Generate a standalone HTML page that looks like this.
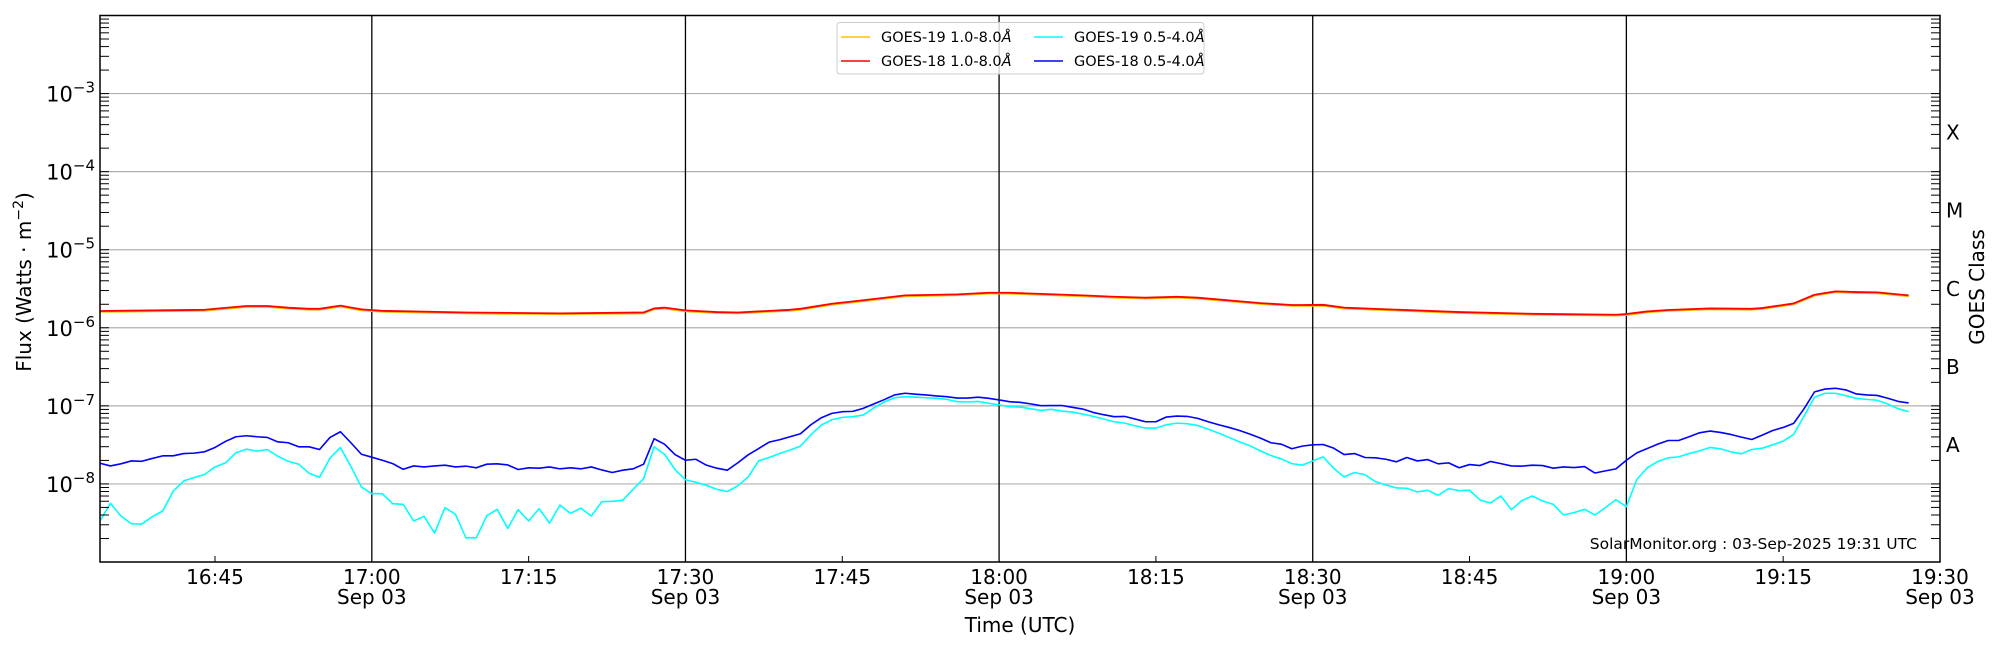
<!DOCTYPE html>
<html><head><meta charset="utf-8"><style>
html,body{margin:0;padding:0;background:#fff;}
svg{display:block;font-family:"DejaVu Sans","Liberation Sans",sans-serif;}
</style></head><body>
<svg id="chart" width="2000" height="650" viewBox="0 0 2000 650">
<g id="grid"></g>
<g id="series"></g>
<g id="axes"></g>
<text x="1020" y="632" font-size="20" text-anchor="middle">Time (UTC)</text>
<text transform="translate(31,282) rotate(-90)" font-size="20" text-anchor="middle">Flux (Watts · m<tspan dy="-8" font-size="14">−2</tspan><tspan dy="8">)</tspan></text>
<text transform="translate(1984,287) rotate(-90)" font-size="20" text-anchor="middle">GOES Class</text>
<text x="1917" y="549" font-size="15.5" text-anchor="end">SolarMonitor.org : 03-Sep-2025 19:31 UTC</text>
<g>
<rect x="837" y="22.5" width="367" height="51.5" rx="3" fill="#fff" fill-opacity="0.8" stroke="#ccc" stroke-width="1"/>
<line x1="841" y1="37" x2="870" y2="37" stroke="#ffc000" stroke-width="1.5"/>
<text x="881" y="42" font-size="14.5">GOES-19 1.0-8.0<tspan font-style="italic">Å</tspan></text>
<line x1="841" y1="61" x2="870" y2="61" stroke="#ff0000" stroke-width="1.5"/>
<text x="881" y="66" font-size="14.5">GOES-18 1.0-8.0<tspan font-style="italic">Å</tspan></text>
<line x1="1034" y1="37" x2="1063" y2="37" stroke="#00ffff" stroke-width="1.5"/>
<text x="1074" y="42" font-size="14.5">GOES-19 0.5-4.0<tspan font-style="italic">Å</tspan></text>
<line x1="1034" y1="61" x2="1063" y2="61" stroke="#0000ff" stroke-width="1.5"/>
<text x="1074" y="66" font-size="14.5">GOES-18 0.5-4.0<tspan font-style="italic">Å</tspan></text>
</g>
</svg>
<script>
// minutes after 16:34 UTC; short channel sampled each minute
const startLabel = "16:34";
const blue18 = [1.84,1.70,1.81,1.97,1.95,2.12,2.29,2.29,2.45,2.48,2.58,2.93,3.50,4.02,4.14,4.02,3.94,3.46,3.37,2.99,2.99,2.76,3.94,4.66,3.37,2.40,2.20,2.01,1.82,1.54,1.70,1.65,1.70,1.74,1.65,1.69,1.61,1.79,1.81,1.75,1.53,1.61,1.59,1.65,1.56,
1.61,1.56,1.65,1.51,1.40,1.50,1.56,1.79,3.79,3.23,2.38,2.01,2.07,1.74,1.59,1.50,1.86,2.36,2.84,3.43,3.68,4.02,4.39,5.73,7.05,8.01,8.41,8.50,9.29,10.56,12.0,13.8,14.5,14.1,13.8,13.4,13.1,12.6,12.6,12.9,12.5,11.9,11.3,
11.1,10.6,10.05,10.1,10.1,9.57,9.10,8.24,7.70,7.26,7.33,6.78,6.26,6.26,7.19,7.40,7.33,6.91,6.26,5.73,5.29,4.84,4.35,3.86,3.37,3.23,2.82,3.05,3.17,3.20,2.87,2.38,2.45,2.18,2.16,2.07,1.92,2.18,1.97,2.05,1.81,1.86,1.61,
1.77,1.72,1.94,1.82,1.70,1.69,1.74,1.72,1.59,1.65,1.62,1.67,1.38,1.47,1.56,2.01,2.50,2.84,3.23,3.60,3.60,4.02,4.52,4.75,4.57,4.30,3.98,3.71,4.22,4.84,5.29,5.96,9.20,15.1,16.4,16.8,16.0,14.2,13.8,13.6,12.5,11.4,10.9]; // x1e-8
const cyan19 = [0.335,0.565,0.388,0.309,0.306,0.38,0.45,0.805,1.09,1.21,1.32,1.65,1.86,2.50,2.79,2.63,2.76,2.27,1.95,1.79,1.37,1.22,2.14,2.93,1.67,0.915,0.751,0.751,0.559,0.548,0.335,0.384,0.235,0.497,0.408,0.204,0.204,0.392,0.473,0.269,0.468,0.335,0.482,0.315,0.537,
0.42,0.49,0.388,0.593,0.599,0.617,0.854,1.17,2.99,2.40,1.53,1.13,1.05,0.96,0.854,0.797,0.943,1.23,1.97,2.18,2.45,2.71,3.05,4.26,5.67,6.64,7.12,7.26,7.62,9.38,11.2,12.7,13.1,12.9,12.7,12.5,12.1,11.3,11.2,11.4,10.8,10.3,9.75,
9.66,9.20,8.75,9.02,8.58,8.33,7.85,7.33,6.78,6.26,6.01,5.56,5.19,5.19,5.73,6.01,5.90,5.61,5.04,4.48,3.94,3.46,3.08,2.65,2.31,2.09,1.82,1.74,1.97,2.22,1.59,1.23,1.40,1.31,1.07,0.97,0.889,0.880,0.789,0.83,0.715,0.871,0.821,
0.83,0.623,0.57,0.701,0.468,0.611,0.701,0.605,0.548,0.40,0.429,0.473,0.40,0.497,0.629,0.512,1.14,1.61,1.94,2.16,2.22,2.45,2.65,2.93,2.82,2.58,2.43,2.76,2.87,3.17,3.53,4.30,7.40,12.9,14.5,14.5,13.5,12.5,12.1,11.8,10.56,9.20,8.41]; // x1e-8
const longMinutes = [0,10,14,16,18,20,21,23,25,27,35,44,52,53,54,56,59,61,66,67,70,73,77,82,85,87,94,97,100,103,105,111,114,115,117,119,130,137,145,146,148,150,154,158,159,162,164,166,168,170,173];
const red18 = [1.64,1.70,1.90,1.90,1.81,1.75,1.75,1.92,1.72,1.65,1.57,1.53,1.57,1.77,1.81,1.67,1.59,1.57,1.70,1.75,2.03,2.25,2.60,2.68,2.81,2.81,2.60,2.50,2.43,2.50,2.43,2.07,1.96,1.96,1.97,1.81,1.59,1.51,1.47,1.50,1.62,1.69,1.77,1.75,1.79,2.05,2.65,2.93,2.87,2.84,2.60]; // x1e-6
const decades = [-3,-4,-5,-6,-7,-8];
const classLetters = ["X","M","C","B","A"];
const classExp = [-4,-5,-6,-7,-8];
const xTickMinutes = [11,26,41,56,71,86,101,116,131,146,161,176];
const xTickLabels = ["16:45","17:00","17:15","17:30","17:45","18:00","18:15","18:30","18:45","19:00","19:15","19:30"];

const L=100,R=1940,T=15.5,B=562, XMAX=176;
const NS="http://www.w3.org/2000/svg";
function xS(m){return L+(m/XMAX)*(R-L);}
function yS(v){return T+(-2-Math.log10(v))*((B-T)/7);}
function mk(tag,attrs,parent){const e=document.createElementNS(NS,tag);for(const k in attrs)e.setAttribute(k,attrs[k]);parent.appendChild(e);return e;}
const grid=document.getElementById('grid'),series=document.getElementById('series'),axes=document.getElementById('axes');

decades.forEach(d=>{
  const y=yS(Math.pow(10,d));
  const g=mk('line',{x1:L,x2:R,y1:y,y2:y,stroke:'#b0b0b0','stroke-width':1.2},grid);
  
  
  const t=mk('text',{x:95,y:y+8,'font-size':21,'text-anchor':'end'},axes);
  
  
  t.innerHTML='10<tspan dy="-9" font-size="15">−'+(-d)+'</tspan>';
});
xTickMinutes.forEach((m,i)=>{
  const x=xS(m);
  if(xTickLabels[i].endsWith(":00")||xTickLabels[i].endsWith(":30")){
    if(m<XMAX){const v=mk('line',{x1:x,x2:x,y1:T,y2:B,stroke:'#000','stroke-width':1.3},grid);
    
    }
    const s=mk('text',{x:x,y:604,'font-size':20,'text-anchor':'middle'},axes);
    
    
    s.textContent='Sep 03';
  } else {
    const tk=mk('line',{x1:x,x2:x,y1:B,y2:B-6,stroke:'#000','stroke-width':1},axes);
    
    
  }
  const t=mk('text',{x:x,y:584,'font-size':20,'text-anchor':'middle'},axes);
  
  
  t.textContent=xTickLabels[i];
});
for(let d=-9;d<-2;d++){for(let k=1;k<10;k++){const y=yS(k*Math.pow(10,d)); if(y<T-0.5)continue; const len=9;
  const a=mk('line',{x1:L,x2:L+len,y1:y,y2:y,stroke:'#000','stroke-width':1},axes);
  
  
  const b=mk('line',{x1:R,x2:R-len,y1:y,y2:y,stroke:'#000','stroke-width':1},axes);
  
  
}}
classLetters.forEach((c,i)=>{
  const t=mk('text',{x:1946,y:yS(Math.pow(10,classExp[i]+0.5))+7,'font-size':20},axes);
  
  
  t.textContent=c;
});
function path(ms,vals,scale,color,w,name,dy){
  const d=vals.map((v,i)=>(i?'L':'M')+xS(ms[i]).toFixed(2)+','+(yS(v*scale)+dy).toFixed(2)).join(' ');
  const p=mk('path',{d:d,fill:'none',stroke:color,'stroke-width':w,'stroke-linejoin':'round'},series);
  
  
}
const mins=cyan19.map((_,i)=>i);
path(mins,cyan19,1e-8,'#00ffff',1.6,'goes19-short-line',0);
path(mins.slice(0,blue18.length),blue18,1e-8,'#0000ff',1.6,'goes18-short-line',0);
path(longMinutes,red18,1e-6,'#ffc000',1.6,'goes19-long-line',1);
path(longMinutes,red18,1e-6,'#ff0000',1.8,'goes18-long-line',0);
const fr=mk('rect',{x:L,y:T,width:R-L,height:B-T,fill:'none',stroke:'#000','stroke-width':1.5},axes);


</script>
</body></html>
